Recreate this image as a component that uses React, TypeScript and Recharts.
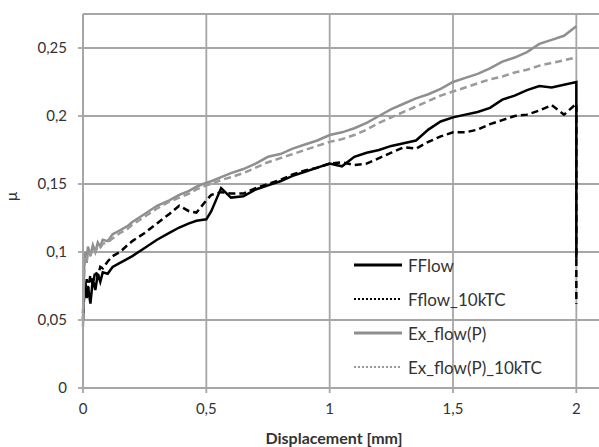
import { LineChart, Line, XAxis, YAxis, CartesianGrid } from 'recharts';

// displacement [mm]; the last entry repeats 2 for the drop at the end of the FFlow runs
const displacement = [
  0, 0.005, 0.01, 0.015, 0.02, 0.03, 0.04, 0.05, 0.06, 0.07, 0.08, 0.1, 0.12, 0.15, 0.18, 0.2,
  0.25, 0.3, 0.35, 0.39, 0.43, 0.46, 0.5, 0.52, 0.56, 0.6, 0.65, 0.7, 0.75, 0.8, 0.85, 0.9,
  0.95, 1.0, 1.05, 1.1, 1.15, 1.2, 1.25, 1.3, 1.35, 1.4, 1.45, 1.5, 1.55, 1.6, 1.65, 1.7,
  1.75, 1.8, 1.85, 1.9, 1.95, 2.0, 2.0,
];

const fflow = [
  0.05, 0.07, 0.078, 0.066, 0.075, 0.062, 0.08, 0.072, 0.084, 0.078, 0.085, 0.084, 0.089, 0.092,
  0.095, 0.097, 0.103, 0.109, 0.114, 0.118, 0.121, 0.123, 0.124, 0.13, 0.147, 0.14, 0.141, 0.146,
  0.149, 0.152, 0.156, 0.159, 0.162, 0.165, 0.163, 0.17, 0.173, 0.175, 0.178, 0.18, 0.182, 0.19,
  0.196, 0.199, 0.201, 0.203, 0.206, 0.212, 0.215, 0.219, 0.222, 0.221, 0.223, 0.225, 0.095,
];

const fflow10k = [
  0.055, 0.075, 0.07, 0.08, 0.072, 0.083, 0.076, 0.086, 0.082, 0.089, 0.088, 0.093, 0.097, 0.1,
  0.105, 0.108, 0.114, 0.121, 0.128, 0.134, 0.13, 0.129, 0.138, 0.142, 0.144, 0.143, 0.143, 0.147,
  0.15, 0.153, 0.157, 0.16, 0.162, 0.165, 0.166, 0.164, 0.165, 0.169, 0.173, 0.177, 0.176, 0.181,
  0.185, 0.188, 0.188, 0.19, 0.194, 0.197, 0.2, 0.201, 0.204, 0.208, 0.201, 0.209, 0.062,
];

const exFlow = [
  0.045, 0.09, 0.1, 0.092, 0.104, 0.097, 0.105, 0.1, 0.107, 0.104, 0.109, 0.108, 0.113, 0.116,
  0.119, 0.122, 0.128, 0.134, 0.138, 0.142, 0.145, 0.148, 0.151, 0.152, 0.155, 0.158, 0.161, 0.165,
  0.17, 0.172, 0.176, 0.179, 0.182, 0.186, 0.188, 0.191, 0.195, 0.2, 0.205, 0.209, 0.213, 0.216,
  0.22, 0.225, 0.228, 0.231, 0.235, 0.24, 0.243, 0.247, 0.253, 0.256, 0.259, 0.266, null,
];

const exFlow10k = [
  0.05, 0.088, 0.097, 0.094, 0.1, 0.098, 0.102, 0.1, 0.104, 0.103, 0.106, 0.107, 0.11, 0.114,
  0.117, 0.12, 0.126, 0.132, 0.137, 0.14, 0.143, 0.146, 0.149, 0.15, 0.153, 0.155, 0.158, 0.162,
  0.166, 0.169, 0.172, 0.175, 0.178, 0.181, 0.183, 0.186, 0.19, 0.195, 0.199, 0.203, 0.207, 0.211,
  0.215, 0.218, 0.221, 0.224, 0.227, 0.229, 0.232, 0.234, 0.237, 0.239, 0.241, 0.243, null,
];

const xTicks = [0, 0.5, 1, 1.5, 2];
const xTickLabels = ['0', '0,5', '1', '1,5', '2'];
const yTicks = [0, 0.05, 0.1, 0.15, 0.2, 0.25];
const yTickLabels = ['0', '0,05', '0,1', '0,15', '0,2', '0,25'];

const series = [
  { key: 'fflow', name: 'FFlow', color: '#000000', dash: undefined, legendDash: undefined },
  { key: 'fflow10k', name: 'Fflow_10kTC', color: '#000000', dash: '7 4', legendDash: '2 2' },
  { key: 'exFlow', name: 'Ex_flow(P)', color: '#8f8f8f', dash: undefined, legendDash: undefined },
  { key: 'exFlow10k', name: 'Ex_flow(P)_10kTC', color: '#9a9a9a', dash: '7 4', legendDash: '2 2' },
];

const data = displacement.map((x, i) => ({
  x,
  fflow: fflow[i],
  fflow10k: fflow10k[i],
  exFlow: exFlow[i],
  exFlow10k: exFlow10k[i],
}));

const font = 'Lato, "Open Sans", sans-serif';
const gridColor = '#a6a6a6';
const textColor = '#333333';

// legend sits inside the plot, like the Excel original
function LegendBox() {
  return (
    <div style={{ position: 'absolute', left: 351, top: 248, fontFamily: font, fontSize: 17, color: textColor, lineHeight: 1 }}>
      {series.map((s) => (
        <div key={s.key} style={{ display: 'flex', alignItems: 'center', height: 34 }}>
          <svg width={57} height={10}>
            <line x1={3} y1={5} x2={51} y2={5} stroke={s.color} strokeWidth={s.legendDash ? 2 : 3} strokeDasharray={s.legendDash} />
          </svg>
          <span>{s.name}</span>
        </div>
      ))}
    </div>
  );
}

export default function App() {
  return (
    <div style={{ position: 'absolute', left: 0, top: 0, width: 599, height: 447, overflow: 'hidden', background: '#fff' }}>
      <LineChart width={601} height={447} data={data} margin={{ top: 14, right: 0, bottom: 0, left: 0 }}>
        <CartesianGrid stroke={gridColor} strokeWidth={1.8} horizontal vertical />
        <XAxis
          dataKey="x"
          type="number"
          domain={[0, 2.1]}
          ticks={xTicks}
          tickFormatter={(v, i) => xTickLabels[i]}
          height={59}
          tickSize={5}
          tickMargin={10}
          stroke={gridColor}
          strokeWidth={1.8}
          tick={{ fill: textColor, fontSize: 15, fontFamily: font }}
          label={{ value: 'Displacement [mm]', position: 'insideBottom', offset: 3, dx: -8, fill: textColor, fontSize: 16, fontWeight: 'bold', fontFamily: font }}
        />
        <YAxis
          type="number"
          domain={[0, 0.275]}
          ticks={yTicks}
          tickFormatter={(v, i) => yTickLabels[i]}
          width={83}
          tickSize={5}
          tickMargin={11}
          stroke={gridColor}
          strokeWidth={1.8}
          tick={{ fill: textColor, fontSize: 15, fontFamily: font }}
          label={{ value: 'μ', angle: -90, position: 'insideLeft', offset: 12, fill: textColor, fontSize: 15, fontFamily: font }}
        />
        {series.map((s) => (
          <Line
            key={s.key}
            type="linear"
            dataKey={s.key}
            name={s.name}
            stroke={s.color}
            strokeWidth={2.5}
            strokeDasharray={s.dash}
            dot={false}
            isAnimationActive={false}
          />
        ))}
      </LineChart>
      <LegendBox />
    </div>
  );
}
